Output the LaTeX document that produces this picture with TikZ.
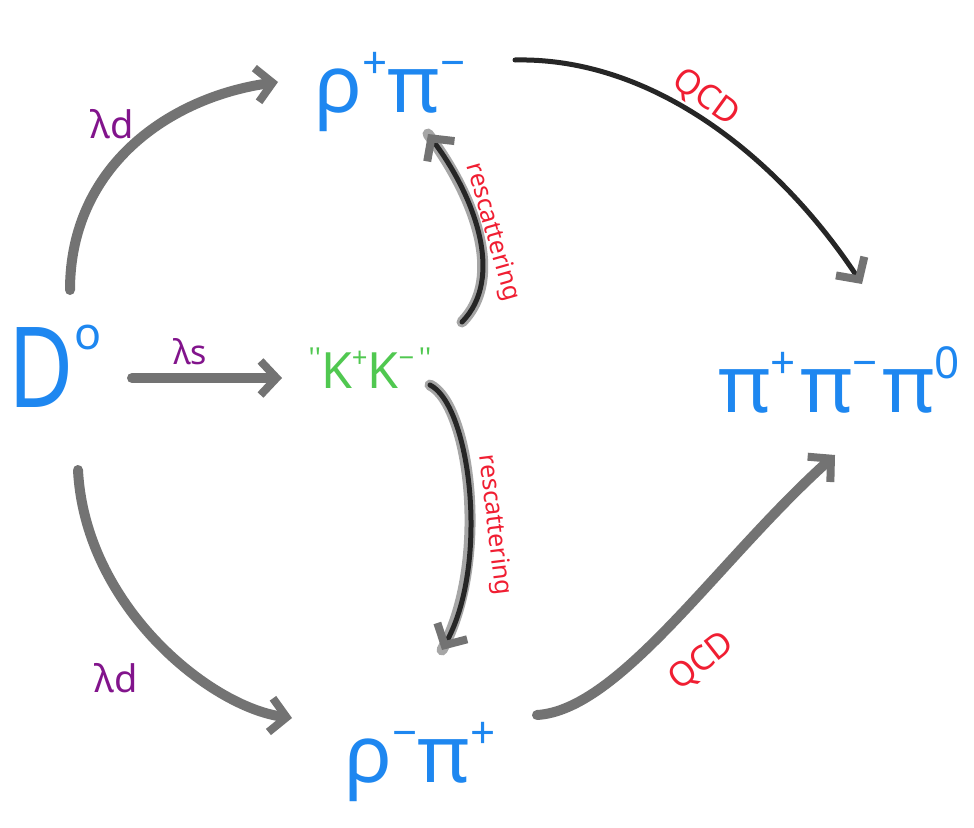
\documentclass[tikz,border=0pt]{standalone}
\usepackage{fontspec}
\usepackage{graphicx}
\usetikzlibrary{arrows.meta}
\newfontfamily\hand{Noto Sans}
\newcommand\hsup[1]{\raisebox{0.42em}{\scalebox{0.55}{#1}}}
\definecolor{pblue}{RGB}{30,135,240}
\definecolor{pgreen}{RGB}{80,200,80}
\definecolor{pred}{RGB}{240,30,50}
\definecolor{ppurple}{RGB}{130,20,140}
\tikzset{
  particle/.style={text=pblue,inner sep=0pt,font=\hand\fontsize{80}{80}\selectfont},
  grayarrow/.style={draw=black!55,line width=10pt,line cap=round,
    -{Straight Barb[length=16pt,width=34pt,line width=8pt]}},
  blackarrow/.style={draw=black!85,line width=5pt,line cap=round,
    -{Straight Barb[length=16pt,width=34pt,line width=8pt,color=black!55]}},
  halo/.style={draw=black!35,line width=11pt,line cap=round},
  lam/.style={text=ppurple,inner sep=0pt,font=\hand\fontsize{38}{38}\selectfont},
  lbl/.style={text=pred,font=\hand\fontsize{25}{25}\selectfont,inner sep=1pt},
  qcd/.style={text=pred,font=\hand\fontsize{34}{34}\selectfont,inner sep=1pt},
}
\begin{document}
\begin{tikzpicture}[x=1pt,y=-1pt]
\useasboundingbox[fill=white] (0,0) rectangle (974,827);
% nodes
\node[particle,font=\hand\fontsize{112}{112}\selectfont] (D) at (55,366) {\scalebox{0.8}[1]{D}\raisebox{0.52em}{\scalebox{0.4}{o}}};
\node[particle] (rp) at (390,92) {ρ\hsup{+}π\hsup{−}};
\node[text=pgreen,inner sep=0pt,font=\hand\fontsize{50}{50}\selectfont] (kk) at (370,368) {\hsup{''}K\hsup{+}K\hsup{−\,''}};
\node[particle,anchor=west] (ppp) at (718,380) {π\hsup{+}\hspace{0.06em}π\hsup{−}\hspace{0.06em}π\hsup{0}};
\node[particle] (rm) at (420,762) {ρ\hsup{−}π\hsup{+}};
% D0 -> rho+ pi-
\draw[grayarrow] ([shift={(15,-76)}]D.center) .. controls ([shift={(15,-200)}]D.center) and ([shift={(-220,5)}]rp.center) .. ([shift={(-112,-10)}]rp.center);
\node[lam] (l1) at (112,124) {λd};
% D0 -> KK
\draw[grayarrow] ([shift={(77,12)}]D.center) -- ([shift={(-88,10)}]kk.center);
\node[lam,font=\hand\fontsize{34}{34}\selectfont] (l2) at (190,352) {λs};
% D0 -> rho- pi+
\draw[grayarrow] ([shift={(23,104)}]D.center) .. controls ([shift={(30,240)}]D.center) and ([shift={(-210,-55)}]rm.center) .. ([shift={(-128,-44)}]rm.center);
\node[lam] (l3) at (116,678) {λd};
% KK -> rho+ pi- (rescattering)
\draw[halo] ([shift={(92,-46)}]kk.center) .. controls ([shift={(135,-90)}]kk.center) and ([shift={(85,105)}]rp.center) .. ([shift={(38,42)}]rp.center);
\draw[blackarrow] ([shift={(92,-46)}]kk.center) .. controls ([shift={(135,-90)}]kk.center) and ([shift={(85,105)}]rp.center) .. ([shift={(38,42)}]rp.center);
\node[lbl,rotate=-74] (r1) at (492,232) {rescattering};
% KK -> rho- pi+ (rescattering)
\draw[halo] ([shift={(60,17)}]kk.center) .. controls ([shift={(100,37)}]kk.center) and ([shift={(70,-200)}]rm.center) .. ([shift={(22,-112)}]rm.center);
\draw[blackarrow] ([shift={(60,17)}]kk.center) .. controls ([shift={(100,37)}]kk.center) and ([shift={(70,-200)}]rm.center) .. ([shift={(22,-112)}]rm.center);
\node[lbl,rotate=-83] (r2) at (494,525) {rescattering};
% rho+ pi- -> 3pi (QCD)
\draw[blackarrow] ([shift={(125,-32)}]rp.center) .. controls ([shift={(265,-35)}]rp.center) and ([shift={(62,-220)}]ppp.west) .. ([shift={(144,-96)}]ppp.west);
\node[qcd,rotate=-36] (q1) at (706,98) {QCD};
% rho- pi+ -> 3pi (QCD)
\draw[grayarrow] ([shift={(117,-47)}]rm.center) .. controls ([shift={(200,-52)}]rm.center) and ([shift={(0,180)}]ppp.west) .. ([shift={(117,75)}]ppp.west);
\node[qcd,rotate=38] (q2) at (702,662) {QCD};
\end{tikzpicture}
\end{document}
